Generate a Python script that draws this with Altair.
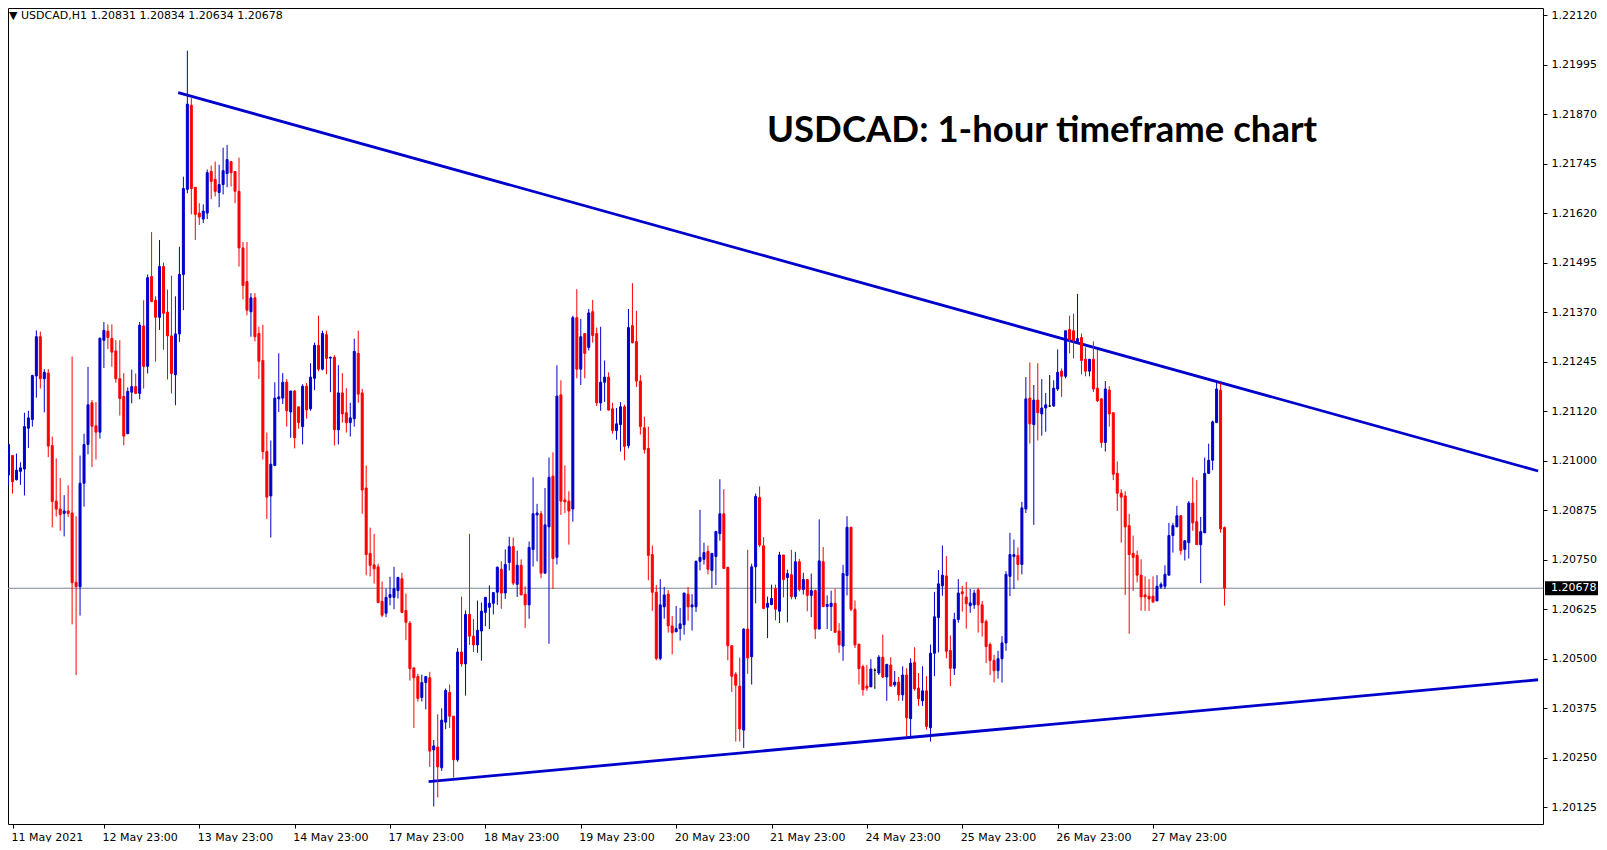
import altair as alt
import pandas as pd

# ---- hourly candles (bar index 0 = first visible bar) ----
opens = [1.20964,1.21013,1.20952,1.20973,1.20979,1.21082,1.21104,1.21214,1.21313,1.21207,
1.21221,1.21038,1.20898,1.20878,1.20867,1.20873,1.20868,1.20693,1.20682,1.20943,
1.21041,1.21146,1.21088,1.21072,1.21304,1.21327,1.21309,1.21277,1.21207,1.21162,
1.21068,1.21173,1.21187,1.21170,1.21340,1.21238,1.21465,1.21405,1.21362,1.21490,
1.21375,1.21315,1.21217,1.21320,1.21470,1.21685,1.21897,1.21690,1.21625,1.21610,
1.21625,1.21730,1.21710,1.21677,1.21697,1.21725,1.21755,1.21730,1.21680,1.21537,
1.21452,1.21376,1.21411,1.21321,1.21253,1.21023,1.20911,1.20988,1.21156,1.21158,
1.21198,1.21123,1.21176,1.21136,1.21086,1.21188,1.21131,1.21208,1.21291,1.21231,
1.21318,1.21259,1.21261,1.21078,1.21171,1.21121,1.21096,1.21106,1.21271,1.21171,
1.20931,1.20766,1.20737,1.20732,1.20645,1.20615,1.20655,1.20655,1.20672,1.20702,
1.20622,1.20590,1.20477,1.20455,1.20402,1.20440,1.20452,1.20270,1.20277,1.20225,
1.20340,1.20415,1.20355,1.20245,1.20517,1.20487,1.20612,1.20557,1.20535,1.20570,
1.20617,1.20630,1.20640,1.20668,1.20726,1.20666,1.20743,1.20783,1.20688,1.20736,
1.20663,1.20636,1.20776,1.20863,1.20866,1.20716,1.20833,1.20961,1.20756,1.21166,
1.20901,1.20898,1.20878,1.21361,1.21231,1.21321,1.21286,1.21376,1.21321,1.21146,
1.21198,1.21211,1.21131,1.21076,1.21091,1.21136,1.21038,1.21341,1.21301,1.21201,
1.21083,1.21031,1.20763,1.20668,1.20501,1.20631,1.20663,1.20583,1.20568,1.20576,
1.20586,1.20663,1.20631,1.20631,1.20746,1.20751,1.20771,1.20723,1.20758,1.20816,
1.20866,1.20731,1.20533,1.20461,1.20431,1.20320,1.20575,1.20505,1.20732,1.20907,
1.20785,1.20630,1.20637,1.20677,1.20620,1.20762,1.20705,1.20712,1.20657,1.20745,
1.20675,1.20700,1.20660,1.20672,1.20575,1.20745,1.20632,1.20632,1.20640,1.20570,
1.20532,1.20710,1.20832,1.20625,1.20537,1.20480,1.20431,1.20429,1.20471,1.20464,
1.20504,1.20454,1.20484,1.20434,1.20441,1.20409,1.20459,1.20349,1.20491,1.20426,
1.20394,1.20419,1.20326,1.20514,1.20604,1.20684,1.20709,1.20521,1.20476,1.20599,
1.20669,1.20656,1.20634,1.20636,1.20674,1.20636,1.20594,1.20536,1.20496,1.20470,
1.20500,1.20540,1.20708,1.20758,1.20761,1.20738,1.20878,1.21158,1.21091,1.21153,
1.21118,1.21133,1.21138,1.21138,1.21181,1.21226,1.21213,1.21331,1.21328,1.21301,
1.21311,1.21256,1.21226,1.21256,1.21183,1.21156,1.21046,1.21178,1.21121,1.20968,
1.20918,1.20911,1.20836,1.20766,1.20761,1.20711,1.20661,1.20658,1.20658,1.20646,
1.20681,1.20683,1.20711,1.20811,1.20833,1.20861,1.20776,1.20793,1.20893,1.20846,
1.20788,1.20818,1.20968,1.21001,1.21096,1.21178,1.20831]

highs = [1.21041,1.21013,1.21018,1.20996,1.21121,1.21126,1.21217,1.21329,1.21326,1.21231,
1.21231,1.21061,1.21006,1.20956,1.20913,1.20938,1.21263,1.20860,1.21013,1.21068,
1.21237,1.21153,1.21148,1.21311,1.21350,1.21344,1.21344,1.21304,1.21304,1.21221,
1.21185,1.21230,1.21220,1.21350,1.21405,1.21470,1.21577,1.21415,1.21557,1.21500,
1.21432,1.21467,1.21415,1.21540,1.21717,1.22035,1.21915,1.21690,1.21650,1.21647,
1.21735,1.21745,1.21755,1.21747,1.21790,1.21797,1.21755,1.21730,1.21765,1.21552,
1.21552,1.21423,1.21423,1.21338,1.21343,1.21071,1.21051,1.21198,1.21271,1.21221,
1.21206,1.21176,1.21178,1.21136,1.21193,1.21196,1.21246,1.21298,1.21366,1.21328,
1.21328,1.21263,1.21266,1.21241,1.21221,1.21183,1.21146,1.21308,1.21328,1.21181,
1.20988,1.20831,1.20815,1.20740,1.20695,1.20677,1.20707,1.20732,1.20707,1.20717,
1.20665,1.20595,1.20477,1.20462,1.20460,1.20455,1.20467,1.20295,1.20360,1.20375,
1.20425,1.20435,1.20355,1.20527,1.20657,1.20622,1.20815,1.20600,1.20647,1.20642,
1.20655,1.20685,1.20667,1.20733,1.20746,1.20776,1.20808,1.20806,1.20773,1.20751,
1.20683,1.20796,1.20958,1.20891,1.20873,1.20931,1.21008,1.21021,1.21241,1.21203,
1.20988,1.20923,1.21366,1.21433,1.21358,1.21321,1.21383,1.21406,1.21336,1.21338,
1.21253,1.21223,1.21146,1.21133,1.21148,1.21141,1.21383,1.21448,1.21378,1.21216,
1.21111,1.21086,1.20786,1.20686,1.20701,1.20681,1.20673,1.20608,1.20633,1.20628,
1.20666,1.20681,1.20663,1.20748,1.20876,1.20793,1.20786,1.20766,1.20823,1.20953,
1.20928,1.20731,1.20533,1.20466,1.20503,1.20577,1.20775,1.20740,1.20917,1.20935,
1.20807,1.20657,1.20687,1.20687,1.20770,1.20762,1.20725,1.20775,1.20770,1.20752,
1.20717,1.20700,1.20715,1.20675,1.20852,1.20782,1.20660,1.20672,1.20677,1.20590,
1.20737,1.20860,1.20832,1.20647,1.20537,1.20485,1.20484,1.20499,1.20476,1.20509,
1.20561,1.20486,1.20504,1.20469,1.20454,1.20481,1.20476,1.20501,1.20529,1.20464,
1.20481,1.20456,1.20536,1.20669,1.20724,1.20786,1.20759,1.20559,1.20616,1.20701,
1.20684,1.20694,1.20676,1.20674,1.20679,1.20646,1.20599,1.20541,1.20510,1.20520,
1.20557,1.20721,1.20818,1.20801,1.20781,1.20896,1.21211,1.21248,1.21191,1.21246,
1.21206,1.21171,1.21216,1.21203,1.21281,1.21233,1.21328,1.21366,1.21371,1.21421,
1.21321,1.21286,1.21256,1.21301,1.21281,1.21158,1.21201,1.21188,1.21121,1.20998,
1.20928,1.20923,1.20866,1.20811,1.20773,1.20751,1.20708,1.20701,1.20708,1.20711,
1.20693,1.20736,1.20843,1.20843,1.20886,1.20861,1.20798,1.20898,1.20958,1.20951,
1.20858,1.21008,1.21043,1.21101,1.21196,1.21196,1.20834]

lows = [1.20938,1.20917,1.20950,1.20939,1.20912,1.21032,1.21086,1.21159,1.21182,1.21122,
1.21009,1.20832,1.20859,1.20823,1.20809,1.20858,1.20587,1.20459,1.20609,1.20884,
1.21016,1.20984,1.21003,1.21056,1.21234,1.21282,1.21237,1.21197,1.21114,1.21039,
1.21068,1.21145,1.21168,1.21155,1.21182,1.21220,1.21400,1.21250,1.21330,1.21280,
1.21205,1.21170,1.21140,1.21300,1.21380,1.21675,1.21622,1.21557,1.21595,1.21600,
1.21610,1.21660,1.21667,1.21640,1.21672,1.21690,1.21692,1.21650,1.21490,1.21407,
1.21367,1.21313,1.21301,1.21206,1.21003,1.20853,1.20806,1.20986,1.21123,1.21143,
1.21086,1.21058,1.21031,1.21081,1.21041,1.21106,1.21126,1.21178,1.21226,1.21228,
1.21218,1.21173,1.21038,1.21041,1.21096,1.21071,1.21061,1.21086,1.21146,1.20866,
1.20711,1.20708,1.20690,1.20640,1.20605,1.20605,1.20635,1.20625,1.20652,1.20615,
1.20547,1.20445,1.20325,1.20392,1.20392,1.20372,1.20227,1.20127,1.20150,1.20217,
1.20322,1.20325,1.20200,1.20240,1.20480,1.20407,1.20535,1.20517,1.20515,1.20495,
1.20582,1.20575,1.20612,1.20636,1.20626,1.20651,1.20723,1.20686,1.20656,1.20661,
1.20578,1.20601,1.20733,1.20746,1.20703,1.20716,1.20538,1.20676,1.20738,1.20863,
1.20868,1.20788,1.20846,1.21208,1.21191,1.21208,1.21278,1.21298,1.21138,1.21126,
1.21148,1.21126,1.21068,1.21053,1.21023,1.21001,1.21031,1.21296,1.21186,1.21066,
1.21018,1.20698,1.20621,1.20496,1.20496,1.20601,1.20566,1.20511,1.20568,1.20546,
1.20561,1.20596,1.20571,1.20618,1.20723,1.20738,1.20713,1.20678,1.20686,1.20798,
1.20728,1.20496,1.20416,1.20291,1.20291,1.20275,1.20462,1.20435,1.20640,1.20782,
1.20625,1.20552,1.20635,1.20597,1.20590,1.20655,1.20592,1.20650,1.20650,1.20670,
1.20662,1.20620,1.20605,1.20550,1.20575,1.20630,1.20575,1.20570,1.20565,1.20515,
1.20495,1.20660,1.20620,1.20527,1.20435,1.20407,1.20419,1.20429,1.20424,1.20459,
1.20451,1.20394,1.20431,1.20429,1.20394,1.20394,1.20304,1.20304,1.20419,1.20381,
1.20381,1.20321,1.20291,1.20456,1.20516,1.20659,1.20501,1.20431,1.20459,1.20591,
1.20619,1.20576,1.20616,1.20626,1.20566,1.20556,1.20489,1.20459,1.20440,1.20450,
1.20440,1.20520,1.20658,1.20676,1.20698,1.20713,1.20868,1.21043,1.20838,1.21051,
1.21063,1.21073,1.21136,1.21136,1.21176,1.21161,1.21208,1.21271,1.21258,1.21301,
1.21218,1.21213,1.21213,1.21173,1.21148,1.21033,1.21023,1.21086,1.20951,1.20873,
1.20793,1.20661,1.20563,1.20671,1.20693,1.20621,1.20621,1.20621,1.20643,1.20646,
1.20676,1.20676,1.20711,1.20768,1.20833,1.20763,1.20748,1.20753,1.20823,1.20788,
1.20691,1.20818,1.20968,1.20976,1.21096,1.20818,1.20634]

closes = [1.21041,1.20947,1.20976,1.20982,1.21086,1.21108,1.21215,1.21313,1.21207,1.21223,
1.21037,1.20897,1.20878,1.20864,1.20873,1.20867,1.20692,1.20682,1.20943,1.21041,
1.21141,1.21087,1.21072,1.21309,1.21329,1.21311,1.21274,1.21207,1.21157,1.21062,
1.21175,1.21187,1.21170,1.21342,1.21238,1.21462,1.21402,1.21362,1.21490,1.21372,
1.21315,1.21220,1.21320,1.21470,1.21687,1.21900,1.21687,1.21622,1.21615,1.21630,
1.21727,1.21705,1.21680,1.21697,1.21732,1.21760,1.21727,1.21680,1.21537,1.21442,
1.21380,1.21411,1.21313,1.21251,1.21023,1.20908,1.20991,1.21158,1.21161,1.21198,
1.21126,1.21176,1.21058,1.21096,1.21188,1.21128,1.21211,1.21291,1.21231,1.21321,
1.21258,1.21261,1.21078,1.21171,1.21118,1.21096,1.21108,1.21276,1.21168,1.20926,
1.20763,1.20736,1.20727,1.20642,1.20610,1.20655,1.20662,1.20677,1.20705,1.20617,
1.20592,1.20475,1.20452,1.20400,1.20440,1.20455,1.20267,1.20280,1.20227,1.20345,
1.20420,1.20355,1.20245,1.20517,1.20487,1.20612,1.20557,1.20535,1.20572,1.20620,
1.20655,1.20640,1.20667,1.20731,1.20666,1.20738,1.20783,1.20691,1.20736,1.20661,
1.20636,1.20781,1.20866,1.20868,1.20716,1.20838,1.20958,1.20753,1.21163,1.20898,
1.20896,1.20873,1.21361,1.21231,1.21313,1.21271,1.21373,1.21316,1.21146,1.21198,
1.21211,1.21128,1.21076,1.21093,1.21136,1.21036,1.21336,1.21298,1.21201,1.21086,
1.21028,1.20761,1.20668,1.20501,1.20636,1.20661,1.20583,1.20566,1.20576,1.20588,
1.20666,1.20631,1.20636,1.20746,1.20756,1.20768,1.20726,1.20766,1.20821,1.20866,
1.20728,1.20533,1.20456,1.20433,1.20323,1.20575,1.20502,1.20732,1.20910,1.20787,
1.20627,1.20640,1.20652,1.20625,1.20762,1.20700,1.20715,1.20657,1.20745,1.20675,
1.20700,1.20660,1.20672,1.20575,1.20747,1.20632,1.20637,1.20640,1.20567,1.20535,
1.20715,1.20832,1.20625,1.20535,1.20475,1.20422,1.20426,1.20474,1.20471,1.20504,
1.20454,1.20486,1.20431,1.20441,1.20409,1.20459,1.20351,1.20489,1.20424,1.20399,
1.20419,1.20329,1.20514,1.20606,1.20689,1.20711,1.20519,1.20476,1.20599,1.20666,
1.20664,1.20639,1.20641,1.20666,1.20636,1.20591,1.20531,1.20496,1.20470,1.20500,
1.20540,1.20713,1.20763,1.20763,1.20738,1.20881,1.21156,1.21093,1.21153,1.21121,
1.21133,1.21141,1.21138,1.21183,1.21223,1.21213,1.21328,1.21306,1.21303,1.21308,
1.21253,1.21226,1.21256,1.21181,1.21151,1.21046,1.21181,1.21118,1.20966,1.20918,
1.20908,1.20833,1.20763,1.20756,1.20711,1.20656,1.20656,1.20651,1.20643,1.20683,
1.20688,1.20713,1.20811,1.20836,1.20861,1.20773,1.20798,1.20893,1.20843,1.20788,
1.20821,1.20968,1.21001,1.21098,1.21181,1.20828,1.20678]

# ---- axes ----
date_labels = ["11 May 2021", "12 May 23:00", "13 May 23:00", "14 May 23:00", "17 May 23:00",
               "18 May 23:00", "19 May 23:00", "20 May 23:00", "21 May 23:00", "24 May 23:00",
               "25 May 23:00", "26 May 23:00", "27 May 23:00"]
date_label_bars = [1.125, 24, 48, 72, 96, 120, 144, 168, 192, 216, 240, 264, 288]

price_ticks = [1.20125, 1.20250, 1.20375, 1.20500, 1.20625, 1.20750, 1.20875, 1.21000,
               1.21125, 1.21250, 1.21375, 1.21500, 1.21625, 1.21750, 1.21875, 1.22000, 1.22125]
price_tick_labels = ["1.20125", "1.20250", "1.20375", "1.20500", "1.20625", "1.20750", "1.20875",
                     "1.21000", "1.21120", "1.21245", "1.21370", "1.21495", "1.21620", "1.21745",
                     "1.21870", "1.21995", "1.22120"]

# ---- trend lines (bar index, price) ----
resistance_bars = [42.7, 384.9]
resistance_prices = [1.21929, 1.20974]
support_bars = [105.7, 384.9]
support_prices = [1.20190, 1.20447]

last_price = 1.20678
header = "\u25bc USDCAD,H1  1.20831 1.20834 1.20634 1.20678"
title = "USDCAD: 1-hour timeframe chart"

BLUE = "#0000CC"
RED = "#FF0000"

n = len(opens)
df = pd.DataFrame({"bar": list(range(n)), "o": opens, "h": highs, "l": lows, "c": closes})
df["col"] = [BLUE if c > o else (RED if c < o else "#000000") for o, c in zip(opens, closes)]

xs = alt.Scale(domain=[1.125, 384.875], nice=False, zero=False)
ys = alt.Scale(domain=[1.200829, 1.221427], nice=False, zero=False)

x_label_expr = "[" + ",".join(repr(s) for s in date_labels) + "][indexof([" + \
    ",".join(str(v) for v in date_label_bars) + "], datum.value)]"
y_label_expr = "[" + ",".join(repr(s) for s in price_tick_labels) + "][indexof([" + \
    ",".join(str(round(v * 100000)) for v in price_ticks) + "], round(datum.value*100000))]"

x_axis = alt.Axis(values=date_label_bars, labelExpr=x_label_expr, labelAlign="left",
                  labelFont="DejaVu Sans", labelFontSize=11, labelColor="black",
                  tickColor="black", tickSize=4, labelPadding=3, labelOffset=-2,
                  domain=False, grid=False, title=None, labelFlush=False, labelOverlap=False)
y_axis = alt.Axis(orient="right", values=price_ticks, labelExpr=y_label_expr,
                  labelFont="DejaVu Sans", labelFontSize=11, labelColor="black",
                  tickColor="black", tickSize=4, labelPadding=4, domain=False, grid=False,
                  title=None, labelOverlap=False, labelBaseline="middle")

base = alt.Chart(df)
wicks = base.mark_rule(strokeWidth=1, clip=True).encode(
    x=alt.X("bar:Q", scale=xs, axis=x_axis),
    y=alt.Y("l:Q", scale=ys, axis=y_axis),
    y2="h:Q",
    color=alt.Color("col:N", scale=None),
)
bodies = base.mark_bar(size=2, strokeWidth=1, clip=True).encode(
    x=alt.X("bar:Q", scale=xs),
    y=alt.Y("o:Q", scale=ys),
    y2="c:Q",
    color=alt.Color("col:N", scale=None),
    stroke=alt.Stroke("col:N", scale=None),
)

pdf = pd.DataFrame({"p": [last_price], "t": [f"{last_price:.5f}"]})
price_line = alt.Chart(pdf).mark_rule(color="#778899", strokeWidth=1).encode(
    y=alt.Y("p:Q", scale=ys))
price_box = alt.Chart(pdf).mark_rect(color="black", yOffset=-7, y2Offset=7).encode(
    x=alt.value(1537), x2=alt.value(1590), y=alt.Y("p:Q", scale=ys), y2="p:Q")
price_text = alt.Chart(pdf).mark_text(color="white", align="left", baseline="middle",
                                      font="DejaVu Sans", fontSize=11).encode(
    x=alt.value(1543), y=alt.Y("p:Q", scale=ys), text="t:N")

tl = pd.DataFrame({
    "x1": [resistance_bars[0], support_bars[0]], "x2": [resistance_bars[1], support_bars[1]],
    "y1": [resistance_prices[0], support_prices[0]], "y2": [resistance_prices[1], support_prices[1]],
})
trend = alt.Chart(tl).mark_rule(color=BLUE, strokeWidth=2.8, clip=True).encode(
    x=alt.X("x1:Q", scale=xs), x2="x2:Q", y=alt.Y("y1:Q", scale=ys), y2="y2:Q")

hdr = alt.Chart(pd.DataFrame({"t": [header]})).mark_text(
    align="left", baseline="middle", font="DejaVu Sans", fontSize=11, color="black").encode(
    x=alt.value(1), y=alt.value(8), text="t:N")
ttl = alt.Chart(pd.DataFrame({"t": [title]})).mark_text(
    align="left", baseline="alphabetic", font="Lato", fontSize=36.5, fontWeight="bold",
    color="black").encode(x=alt.value(759), y=alt.value(134), text="t:N")

chart = alt.layer(price_line, trend, wicks, bodies, price_box, price_text, hdr, ttl).properties(
    width=1535, height=816, background="white",
    autosize=alt.AutoSizeParams(type="none"),
    padding={"left": 0, "top": 0, "right": 56, "bottom": 18},
).configure_view(stroke="black", strokeWidth=1)

chart.save("out.html", embed_options={"renderer": "svg", "actions": False})
